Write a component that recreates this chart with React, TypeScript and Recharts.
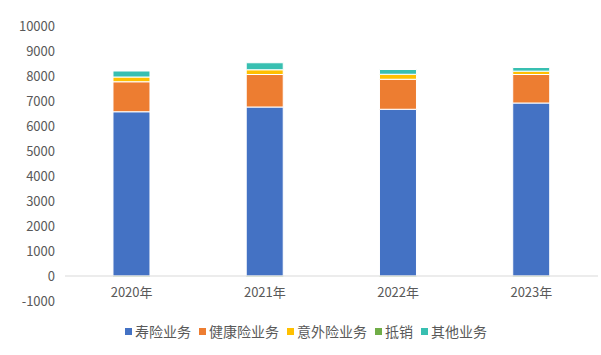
import React from 'react';
import { BarChart, Bar, XAxis, YAxis, Legend, ReferenceLine } from 'recharts';

const years = ['2020年', '2021年', '2022年', '2023年'];
const lifeIns = [6570, 6760, 6670, 6920];
const healthIns = [1200, 1300, 1200, 1140];
const accidentIns = [190, 190, 200, 135];
const offset = [-6, -6, -6, -6];
const otherBiz = [240, 280, 190, 145];
const yTicks = [-1000, 0, 1000, 2000, 3000, 4000, 5000, 6000, 7000, 8000, 9000, 10000];

const seriesNames = ['寿险业务', '健康险业务', '意外险业务', '抵销', '其他业务'];
const seriesColors = ['#4472C4', '#ED7D31', '#FFC000', '#70AD47', '#38BFB1'];

const data = years.map((name, i) => ({
  name,
  life: lifeIns[i],
  health: healthIns[i],
  accident: accidentIns[i],
  offset: offset[i],
  other: otherBiz[i],
}));

const FONT = '"Noto Sans CJK SC", "Noto Sans", sans-serif';

const LegendBox = () => (
  <div style={{ display: 'flex', justifyContent: 'center', paddingLeft: 22, fontSize: 14, color: '#595959', fontFamily: FONT }}>
    {seriesNames.map((n, i) => (
      <div key={n} style={{ display: 'flex', alignItems: 'center', marginRight: 8 }}>
        <span style={{ width: 7, height: 7, background: seriesColors[i], display: 'inline-block', marginRight: 3 }} />
        <span>{n}</span>
      </div>
    ))}
  </div>
);

const App: React.FC = () => {
  return (
    <div style={{ position: 'absolute', left: 0, top: 0, fontFamily: FONT }}>
      <BarChart
        width={601}
        height={355}
        data={data}
        stackOffset="sign"
        barCategoryGap="36%"
        margin={{ top: 26, right: 3, left: 0, bottom: 10 }}
      >
        <XAxis
          dataKey="name"
          axisLine={false}
          tickLine={false}
          tickSize={0}
          tickMargin={-13}
          height={20}
          tick={{ fill: '#595959', fontSize: 13, fontFamily: FONT }}
        />
        <YAxis
          type="number"
          domain={[-1000, 10000]}
          ticks={yTicks}
          interval={0}
          axisLine={false}
          tickLine={false}
          tickSize={0}
          tickMargin={10}
          width={65}
          tick={{ fill: '#595959', fontSize: 13, fontFamily: FONT }}
        />
        <ReferenceLine y={0} stroke="#d9d9d9" strokeWidth={1} />
        <Bar dataKey="life" name={seriesNames[0]} stackId="a" fill={seriesColors[0]} stroke="#fff" strokeWidth={1} isAnimationActive={false} />
        <Bar dataKey="health" name={seriesNames[1]} stackId="a" fill={seriesColors[1]} stroke="#fff" strokeWidth={1} isAnimationActive={false} />
        <Bar dataKey="accident" name={seriesNames[2]} stackId="a" fill={seriesColors[2]} stroke="#fff" strokeWidth={1} isAnimationActive={false} />
        <Bar dataKey="offset" name={seriesNames[3]} stackId="a" fill={seriesColors[3]} isAnimationActive={false} />
        <Bar dataKey="other" name={seriesNames[4]} stackId="a" fill={seriesColors[4]} stroke="#fff" strokeWidth={1} isAnimationActive={false} />
        <Legend verticalAlign="bottom" align="center" height={24} content={() => <LegendBox />} />
      </BarChart>
    </div>
  );
};

export default App;
